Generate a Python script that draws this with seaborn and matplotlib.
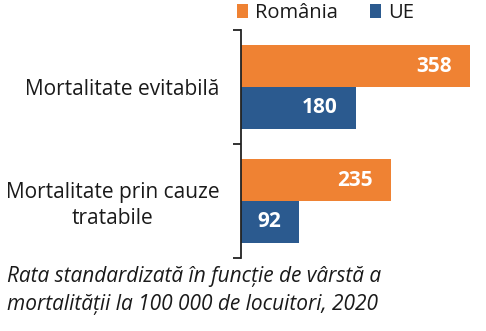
import matplotlib
matplotlib.use("Agg")
import matplotlib.pyplot as plt
from matplotlib.patches import Patch
import seaborn as sns
import pandas as pd

categories = ["Mortalitate evitabilă", "Mortalitate prin cauze\ntratabile"]
series = ["România", "UE"]
romania = [358, 235]
ue = [180, 92]
caption = "Rata standardizată în funcție de vârstă a\nmortalității la 100 000 de locuitori, 2020"

colors = {"România": "#EF8233", "UE": "#2B5A8F"}

df = pd.DataFrame({
    "cat": categories * 2,
    "serie": [series[0]] * 2 + [series[1]] * 2,
    "val": romania + ue,
})

sns.set_theme(style="white")
plt.rcParams["font.family"] = ["Open Sans", "DejaVu Sans"]

W, H = 486, 331
fig = plt.figure(figsize=(W / 100, H / 100), dpi=100)
ax = fig.add_axes([240.5 / W, (H - 258) / H, (484 - 240.5) / W, 228 / H])

sns.barplot(data=df, y="cat", x="val", hue="serie", orient="h",
            palette=colors, width=0.73, ax=ax, legend=False,
            saturation=1, linewidth=0, order=categories, hue_order=series)

ax.set_xlim(0, 380)
ax.set_ylim(1.5, -0.5)
ax.set_xlabel("")
ax.set_ylabel("")
ax.set_xticks([])
for s in ["top", "right", "bottom"]:
    ax.spines[s].set_visible(False)
ax.spines["left"].set_color("#222222")
ax.spines["left"].set_linewidth(1.3)

ax.set_yticks([-0.5, 0.5, 1.5])
ax.set_yticklabels(["", "", ""])
ax.tick_params(axis="y", which="major", left=True, length=5.5, width=1.3, color="#222222")
ax.set_yticks([0, 1], minor=True)
ax.set_yticklabels(categories, minor=True, fontsize=15, color="#1a1a1a", linespacing=1.3)
ax.tick_params(axis="y", which="minor", left=False, length=0, pad=15)
for lbl in ax.get_yticklabels(minor=True):
    lbl.set_multialignment("center")

for cont in ax.containers:
    for rect in cont:
        w = rect.get_width()
        ax.annotate(f"{w:.0f}", (w, rect.get_y() + rect.get_height() / 2),
                    xytext=(-18, 0), textcoords="offset pixels",
                    ha="right", va="center", color="white",
                    fontsize=15, fontweight="bold")

handles = [Patch(facecolor=colors[s], edgecolor="none") for s in series]
fig.legend(handles, series, loc="center left", bbox_to_anchor=(237 / W, 1 - 13 / H),
           ncol=2, frameon=False, fontsize=14.5, handlelength=0.55, handleheight=0.75,
           handletextpad=0.35, columnspacing=1.6, borderpad=0, borderaxespad=0,
           labelcolor="#1a1a1a")

fig.text(7 / W, 1 - 266 / H, caption, ha="left", va="top", fontsize=15,
         style="italic", color="#1a1a1a", linespacing=1.45)

fig.savefig("out.png", dpi=100)
